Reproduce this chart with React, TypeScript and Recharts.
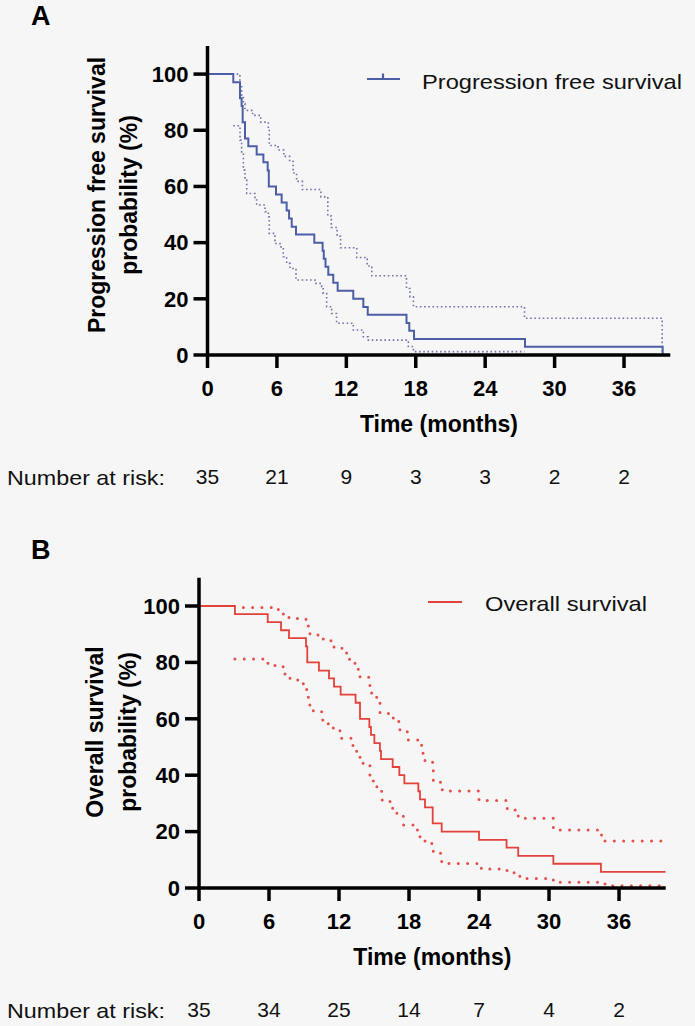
import React from "react";
import { LineChart, Line, XAxis, YAxis } from "recharts";

// ---------- data ----------
const xTicks = [0, 6, 12, 18, 24, 30, 36];
const yTicks = [0, 20, 40, 60, 80, 100];
const riskA = [35, 21, 9, 3, 3, 2, 2];
const riskB = [35, 34, 25, 14, 7, 4, 2];

// Panel A: progression free survival (Kaplan-Meier steps)
const pfsTime = [0, 2.23, 2.81, 2.95, 3.04, 3.24, 3.53, 4.25, 4.83, 5.2, 5.3, 5.92, 6.41, 6.84, 7.05, 7.28, 7.65, 9.23, 9.95, 10.05, 10.2, 10.44, 10.87, 11.25, 12.6, 13.47, 13.85, 17.2, 17.44, 17.85, 27.44, 39.34];
const pfsSurv = [100, 97.1, 91.4, 88.6, 82.9, 77.1, 74.3, 71.4, 68.6, 65.7, 60, 57.1, 54.3, 51.4, 48.6, 45.7, 42.9, 40, 37.1, 34.3, 31.4, 28.6, 25.7, 22.9, 20, 17.1, 14.3, 11.4, 8.6, 5.7, 2.9, 0];
const pfsUpTime = [2.52, 2.8, 2.95, 3.1, 3.24, 3.9, 4.6, 5.26, 5.34, 6.1, 6.6, 7.1, 7.4, 7.7, 8.2, 9.8, 10.4, 10.7, 11.2, 11.5, 12.9, 13.8, 14.2, 17.2, 17.5, 17.8, 27.4, 39.3];
const pfsUp = [100, 96, 92.5, 89.5, 87.1, 85.3, 82.9, 80.5, 74.6, 73, 70.7, 68.9, 64.8, 61.8, 58.9, 56.3, 49.5, 45.4, 42.3, 38.2, 34.7, 31.7, 28.2, 23.7, 20.7, 17.2, 13.1, 0];
const pfsLoTime = [2.23, 2.81, 2.95, 3.1, 3.24, 3.39, 4.1, 4.25, 4.97, 5.26, 5.34, 5.83, 6.26, 6.55, 6.84, 7.13, 7.65, 9.29, 9.87, 10.0, 10.3, 10.73, 11.16, 12.6, 13.47, 13.9, 17.36, 17.8, 27.4];
const pfsLo = [81.6, 76.5, 71.8, 65.8, 62.3, 57.5, 55.2, 53.4, 51.0, 49.2, 43.3, 39.7, 38.5, 35.0, 32.6, 30.8, 26.7, 25.5, 24.3, 21.9, 17.2, 14.8, 11.3, 8.9, 6.5, 5.3, 3.0, 1.2, 1.2];

// Panel B: overall survival
const osTime = [0, 3.08, 5.89, 7.03, 7.71, 9.17, 9.28, 10.28, 11.14, 11.57, 12.14, 13.42, 13.8, 14.6, 14.74, 15.03, 15.51, 15.6, 16.6, 17.17, 17.6, 18.8, 18.94, 19.37, 20.03, 20.8, 24.0, 26.36, 27.36, 30.37, 34.45, 40];
const osSurv = [100, 97.1, 94.3, 91.4, 88.6, 85.7, 80, 77.1, 74.3, 71.4, 68.6, 65.7, 60, 57.1, 54.3, 51.4, 48.6, 45.7, 42.9, 40, 37.1, 34.3, 31.4, 28.6, 22.9, 20, 17.1, 14.3, 11.4, 8.6, 5.7, 5.7];
const osUpTime = [3.8, 6.8, 7.23, 7.71, 9.17, 9.37, 9.51, 10.65, 11.57, 12.65, 13.37, 13.8, 14.65, 14.8, 15.23, 15.51, 16.65, 17.22, 17.94, 19.08, 19.37, 20.02, 20.08, 20.85, 24.0, 26.42, 27.36, 30.37, 34.5, 40];
const osUp = [99.5, 98.3, 97.0, 95.6, 94.8, 92.1, 89.7, 87.7, 85.0, 81.1, 77.6, 74.7, 71.4, 69.0, 65.5, 61.9, 59.0, 55.4, 52.5, 47.8, 44.6, 43.0, 37.5, 34.4, 31.0, 27.7, 24.7, 20.6, 16.7, 16.7];
const osLoTime = [3.08, 5.7, 6.51, 7.37, 7.8, 8.94, 9.23, 9.37, 9.8, 10.51, 11.08, 11.51, 12.08, 13.17, 13.51, 13.8, 14.65, 14.94, 15.65, 16.37, 16.94, 17.51, 18.65, 18.94, 19.37, 20.08, 20.8, 24.2, 26.4, 27.08, 27.5, 30.37, 34.8, 40];
const osLo = [81.2, 79.7, 78.5, 75.2, 73.8, 72.2, 70.2, 64.9, 62.5, 59.6, 58.2, 56.0, 53.1, 50.5, 47.8, 44.2, 39.5, 35.9, 31.2, 28.3, 26.5, 22.3, 20.6, 18.2, 15.8, 12.3, 8.7, 6.7, 5.4, 4.6, 3.4, 2.0, 0.8, 0.8];

const zip = (t: number[], v: number[]) => t.map((x, i) => ({ t: x, v: v[i] }));

// ---------- styling ----------
const FONT = '"Liberation Sans", Arial, Helvetica, sans-serif';
const BG = "#f6f6f6";
const BLUE = "#4b5ea6";
const BLUE_CI = "#6f74aa";
const RED = "#e3423b";
const RED_CI = "#e4514a";
const AX = 3.5;

type PanelProps = {
  top: number;
  height: number;
  plotLeft: number;
  plotRight: number;
  plotTop: number;
  plotBottom: number;
  risk: number[];
  main: { t: number; v: number }[];
  up: { t: number; v: number }[];
  lo: { t: number; v: number }[];
  color: string;
  ciColor: string;
  ciDash: string;
  ciWidth: number;
  ciCap: "round" | "butt";
  mainWidth: number;
};

function Panel(p: PanelProps) {
  const xAxisH = 100;
  const riskH = p.height - (p.plotBottom - p.top) - xAxisH;
  return (
    <div style={{ position: "absolute", left: 0, top: p.top }}>
      <LineChart
        width={695}
        height={p.height}
        margin={{ top: p.plotTop - p.top, right: 695 - p.plotRight, left: 0, bottom: 0 }}
      >
        <XAxis
          dataKey="t"
          type="number"
          domain={[0, 40]}
          allowDataOverflow
          ticks={xTicks}
          interval={0}
          height={xAxisH}
          tickSize={13}
          tickMargin={12}
          axisLine={{ stroke: "#000", strokeWidth: AX }}
          tickLine={{ stroke: "#000", strokeWidth: AX }}
          tick={{ fill: "#000", fontSize: 22, fontWeight: 700, fontFamily: FONT }}
        />
        <XAxis
          xAxisId="risk"
          dataKey="t"
          type="number"
          domain={[0, 40]}
          allowDataOverflow
          ticks={xTicks}
          interval={0}
          height={riskH}
          axisLine={false}
          tickLine={false}
          tickSize={0}
          tickMargin={14}
          tickFormatter={(_v: number, i: number) => String(p.risk[i])}
          tick={{ fill: "#111", fontSize: 21, fontFamily: FONT }}
        />
        <YAxis
          type="number"
          domain={[0, 110]}
          allowDataOverflow
          ticks={yTicks}
          interval={0}
          width={p.plotLeft}
          tickSize={14}
          tickMargin={5}
          axisLine={{ stroke: "#000", strokeWidth: AX }}
          tickLine={{ stroke: "#000", strokeWidth: AX }}
          tick={{ fill: "#000", fontSize: 22, fontWeight: 700, fontFamily: FONT }}
        />
        <Line
          data={p.up}
          dataKey="v"
          type="stepAfter"
          stroke={p.ciColor}
          strokeWidth={p.ciWidth}
          strokeDasharray={p.ciDash}
          strokeLinecap={p.ciCap}
          dot={false}
          activeDot={false}
          isAnimationActive={false}
        />
        <Line
          data={p.lo}
          dataKey="v"
          type="stepAfter"
          stroke={p.ciColor}
          strokeWidth={p.ciWidth}
          strokeDasharray={p.ciDash}
          strokeLinecap={p.ciCap}
          dot={false}
          activeDot={false}
          isAnimationActive={false}
        />
        <Line
          data={p.main}
          dataKey="v"
          type="stepAfter"
          stroke={p.color}
          strokeWidth={p.mainWidth}
          dot={false}
          activeDot={false}
          isAnimationActive={false}
        />
      </LineChart>
    </div>
  );
}

export default function App() {
  const A = { left: 207.5, right: 670.3, top: 46, bottom: 355 };
  const B = { left: 199, right: 665.7, top: 577.8, bottom: 888 };
  return (
    <div
      style={{
        position: "absolute",
        left: 0,
        top: 0,
        width: 695,
        height: 1026,
        background: BG,
        fontFamily: FONT,
        overflow: "hidden",
      }}
    >
      <Panel
        top={0}
        height={500}
        plotLeft={A.left}
        plotRight={A.right}
        plotTop={A.top}
        plotBottom={A.bottom}
        risk={riskA}
        main={zip(pfsTime, pfsSurv)}
        up={zip(pfsUpTime, pfsUp)}
        lo={zip(pfsLoTime, pfsLo)}
        color={BLUE}
        ciColor={BLUE_CI}
        ciDash="1.6 2.6"
        ciWidth={1.6}
        ciCap="butt"
        mainWidth={2}
      />
      <Panel
        top={530}
        height={496}
        plotLeft={B.left}
        plotRight={B.right}
        plotTop={B.top}
        plotBottom={B.bottom}
        risk={riskB}
        main={zip(osTime, osSurv)}
        up={zip(osUpTime, osUp)}
        lo={zip(osLoTime, osLo)}
        color={RED}
        ciColor={RED_CI}
        ciDash="0 9.3"
        ciWidth={3}
        ciCap="round"
        mainWidth={1.8}
      />
      <svg
        width={695}
        height={1026}
        style={{ position: "absolute", left: 0, top: 0, pointerEvents: "none" }}
        fontFamily={FONT}
      >
        {/* Panel A */}
        <text x={31} y={16} fontSize={27} fontWeight={700} dominantBaseline="central">A</text>
        <line x1={367} x2={400} y1={79} y2={79} stroke={BLUE} strokeWidth={2} />
        <line x1={383} x2={383} y1={73.5} y2={79} stroke={BLUE} strokeWidth={2.2} />
        <text x={422} y={81} fontSize={21} fill="#111" dominantBaseline="central" textLength={260} lengthAdjust="spacingAndGlyphs">
          Progression free survival
        </text>
        <text transform="translate(97,195) rotate(-90)" textAnchor="middle" dominantBaseline="central" fontSize={23} fontWeight={700}>
          Progression free survival
        </text>
        <text transform="translate(129,195) rotate(-90)" textAnchor="middle" dominantBaseline="central" fontSize={23} fontWeight={700}>
          probability (%)
        </text>
        <text x={(A.left + A.right) / 2} y={424} textAnchor="middle" dominantBaseline="central" fontSize={23} fontWeight={700}>
          Time (months)
        </text>
        <text x={7} y={477} fontSize={21} fill="#111" dominantBaseline="central" textLength={158} lengthAdjust="spacingAndGlyphs">
          Number at risk:
        </text>

        {/* Panel B */}
        <text x={31} y={550} fontSize={27} fontWeight={700} dominantBaseline="central">B</text>
        <line x1={428} x2={462} y1={602} y2={602} stroke={RED} strokeWidth={1.8} />
        <text x={485} y={603} fontSize={21} fill="#111" dominantBaseline="central" textLength={162} lengthAdjust="spacingAndGlyphs">
          Overall survival
        </text>
        <text transform="translate(95,732) rotate(-90)" textAnchor="middle" dominantBaseline="central" fontSize={23} fontWeight={700}>
          Overall survival
        </text>
        <text transform="translate(128,732) rotate(-90)" textAnchor="middle" dominantBaseline="central" fontSize={23} fontWeight={700}>
          probability (%)
        </text>
        <text x={(B.left + B.right) / 2} y={957} textAnchor="middle" dominantBaseline="central" fontSize={23} fontWeight={700}>
          Time (months)
        </text>
        <text x={7} y={1010} fontSize={21} fill="#111" dominantBaseline="central" textLength={158} lengthAdjust="spacingAndGlyphs">
          Number at risk:
        </text>
      </svg>
    </div>
  );
}
